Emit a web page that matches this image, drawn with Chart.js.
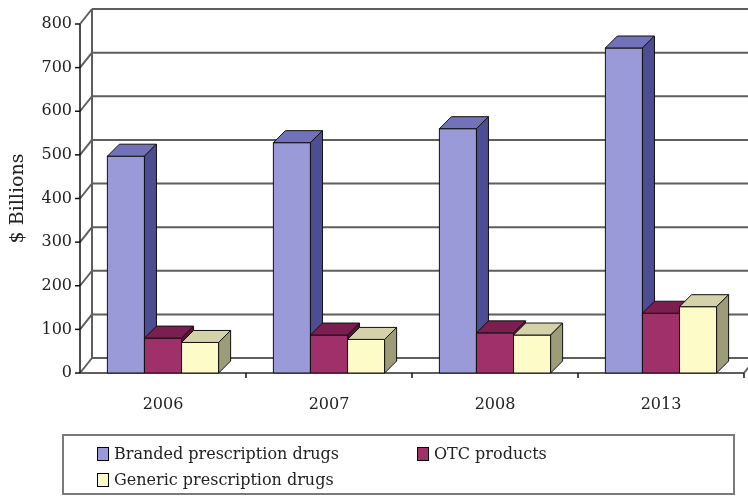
<!DOCTYPE html>
<html>
<head>
<meta charset="utf-8">
<script src="https://cdn.jsdelivr.net/npm/chart.js@4.4.1/dist/chart.umd.min.js"></script>
<style>
html, body { margin: 0; padding: 0; background: #fff; }
#wrap { position: relative; width: 748px; height: 497px; }
#legend {
    position: absolute; left: 62px; top: 434px; width: 673px; height: 61px;
    border: 2px solid #7a7a7a; box-sizing: border-box;
    font-family: "DejaVu Serif"; font-size: 16px; color: #222;
}
.item { position: absolute; display: flex; align-items: center; white-space: nowrap; }
.sw { width: 10px; height: 12px; border: 1px solid #000; margin-right: 5px; }
</style>
</head>
<body>
<div id="wrap">
    <canvas id="c" width="748" height="497"></canvas>
    <div id="legend"></div>
</div>
<script>
const categories = ['2006', '2007', '2008', '2013'];
const seriesNames = ['Branded prescription drugs', 'OTC products', 'Generic prescription drugs'];
const branded = [497, 528, 560, 745];
const otc = [80, 87, 92, 137];
const generic = [70, 77, 87, 152];
const yMax = 800;
const yStep = 100;

// front / top / side shades for each series
const shades = [
    { front: '#9a9ad8', top: '#7272bb', side: '#4d4d93' },
    { front: '#a0306a', top: '#7c1f50', side: '#5a1238' },
    { front: '#fdfcc9', top: '#d3d2a8', side: '#9c9c78' }
];

const WALL_DX = 12, WALL_DY = 15;
const BAR_D = 12;

function line(ctx, x1, y1, x2, y2) {
    ctx.beginPath();
    ctx.moveTo(x1, y1);
    ctx.lineTo(x2, y2);
    ctx.stroke();
}

function poly(ctx, pts, fill) {
    ctx.beginPath();
    ctx.moveTo(pts[0][0], pts[0][1]);
    for (let i = 1; i < pts.length; i++) ctx.lineTo(pts[i][0], pts[i][1]);
    ctx.closePath();
    ctx.fillStyle = fill;
    ctx.fill();
    ctx.stroke();
}

const box3d = {
    id: 'box3d',
    beforeDatasetsDraw(chart) {
        const ctx = chart.ctx;
        const { left, right, bottom } = chart.chartArea;
        const ys = chart.scales.y;
        const farRight = chart.width + 20;

        ctx.save();
        // back wall + left wall grid
        ctx.strokeStyle = '#5e5e5e';
        ctx.lineWidth = 2;
        for (let v = 0; v <= yMax; v += yStep) {
            const py = ys.getPixelForValue(v);
            line(ctx, left, py, left + WALL_DX, py - WALL_DY);
            line(ctx, left + WALL_DX, py - WALL_DY, farRight, py - WALL_DY);
        }
        line(ctx, left + WALL_DX, ys.getPixelForValue(yMax) - WALL_DY, left + WALL_DX, bottom - WALL_DY);
        // floor front edge
        line(ctx, left, bottom, right, bottom);
        line(ctx, right, bottom, right + WALL_DX, bottom - WALL_DY);

        // front value axis with ticks
        ctx.strokeStyle = '#111';
        ctx.lineWidth = 1.5;
        line(ctx, left, ys.getPixelForValue(yMax), left, bottom);
        for (let v = 0; v <= yMax; v += yStep) {
            const py = ys.getPixelForValue(v);
            line(ctx, left - 5, py, left, py);
        }
        // category ticks
        const step = (right - left) / categories.length;
        for (let i = 1; i <= categories.length; i++) {
            const px = left + step * i;
            line(ctx, px, bottom, px, bottom + 5);
        }

        // bars, painted left to right
        ctx.strokeStyle = '#111';
        ctx.lineWidth = 1;
        ctx.lineJoin = 'round';
        for (let i = 0; i < categories.length; i++) {
            chart.data.datasets.forEach((ds, d) => {
                const bar = chart.getDatasetMeta(d).data[i];
                const xl = bar.x - bar.width / 2;
                const xr = bar.x + bar.width / 2;
                const yt = bar.y;
                const yb = bar.base;
                const c = shades[d];
                poly(ctx, [[xl, yb], [xl, yt], [xr, yt], [xr, yb]], c.front);
                poly(ctx, [[xl, yt], [xl + BAR_D, yt - BAR_D], [xr + BAR_D, yt - BAR_D], [xr, yt]], c.top);
                poly(ctx, [[xr, yt], [xr + BAR_D, yt - BAR_D], [xr + BAR_D, yb - BAR_D], [xr, yb]], c.side);
            });
        }
        ctx.restore();
        return false;
    }
};

const font = { family: 'DejaVu Serif', size: 16 };

new Chart(document.getElementById('c'), {
    type: 'bar',
    plugins: [box3d],
    data: {
        labels: categories,
        datasets: [
            { label: seriesNames[0], data: branded, backgroundColor: shades[0].front },
            { label: seriesNames[1], data: otc, backgroundColor: shades[1].front },
            { label: seriesNames[2], data: generic, backgroundColor: shades[2].front }
        ]
    },
    options: {
        responsive: false,
        animation: false,
        events: [],
        layout: { padding: { top: 24, right: 4, left: 0, bottom: 0 } },
        datasets: { bar: { categoryPercentage: 0.67, barPercentage: 1 } },
        plugins: { legend: { display: false }, tooltip: { enabled: false } },
        scales: {
            x: {
                grid: { display: false, drawTicks: false },
                border: { display: false },
                ticks: { color: '#222', font: font, padding: 22 },
                afterFit: s => { s.height = 124; }
            },
            y: {
                min: 0,
                max: yMax,
                grid: { display: false, drawTicks: false },
                border: { display: false },
                ticks: { stepSize: yStep, color: '#222', font: font, padding: 8 },
                title: { display: true, text: '$ Billions', color: '#222', font: { family: 'DejaVu Serif', size: 19 }, padding: { top: 7, bottom: 0 } },
                afterFit: s => { s.width = 80; }
            }
        }
    }
});

// legend
const legendPos = [[33, 18], [353, 18], [33, 44]];
const legendEl = document.getElementById('legend');
seriesNames.forEach((name, i) => {
    const item = document.createElement('div');
    item.className = 'item';
    item.style.left = legendPos[i][0] + 'px';
    item.style.top = (legendPos[i][1] - 10) + 'px';
    item.innerHTML = '<span class="sw" style="background:' + shades[i].front + '"></span><span>' + name + '</span>';
    legendEl.appendChild(item);
});
</script>
</body>
</html>
